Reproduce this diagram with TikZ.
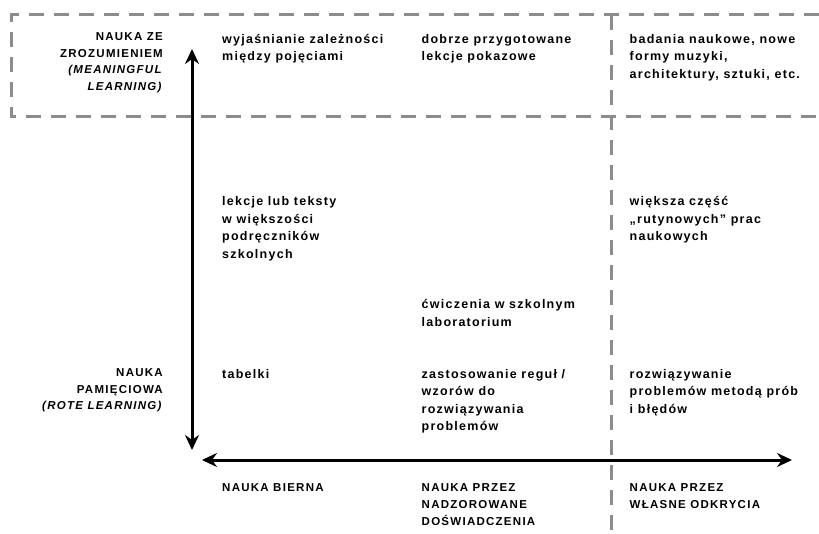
\documentclass[tikz,border=0pt]{standalone}
\usepackage{fontspec}
\setmainfont{Liberation Sans}
\newfontfamily\bodyf{Liberation Sans}[LetterSpace=10]
\newfontfamily\capf{Liberation Sans}[LetterSpace=11]
\usetikzlibrary{arrows.meta}
\definecolor{dashgray}{RGB}{140,140,140}
\newcommand\stackL[1]{\vtop{\halign{##\hfil\cr#1\crcr}}}
\newcommand\stackR[1]{\vtop{\halign{\hfil##\cr#1\crcr}}}
\begin{document}
\begin{tikzpicture}[x=1pt,y=-1pt,
  cell/.style={anchor=base west, inner sep=0pt,
    font=\bodyf\bfseries\fontsize{12.5}{17.5}\selectfont},
  sidelabel/.style={anchor=base east, inner sep=0pt,
    font=\capf\bfseries\fontsize{11.5}{16.6}\selectfont},
  baselabel/.style={anchor=base west, inner sep=0pt,
    font=\capf\bfseries\fontsize{11.5}{16.7}\selectfont},
  dashline/.style={draw=dashgray, line width=3pt, dash pattern=on 15pt off 10pt},
  axis/.style={line width=3pt, {Stealth[length=15pt,width=14pt,inset=5pt]}-{Stealth[length=15pt,width=14pt,inset=5pt]}}]
\useasboundingbox (0,0) rectangle (819,534);
% dashed frame
\draw[dashline] (819,15) -- (11,15) -- (11,117) -- (819,117);
\draw[dashline] (611,15) -- (611,534);
% axes
\coordinate (vtop) at (192,49);
\coordinate (vbot) at (192,450);
\coordinate (hleft) at (202,460);
\coordinate (hright) at (792,460);
\draw[axis] (vbot) -- (vtop);
\draw[axis] (hleft) -- (hright);
% side labels
\node[sidelabel] (s1) at (163,40.7) {\stackR{NAUKA ZE\cr ZROZUMIENIEM\cr \textit{(MEANINGFUL}\cr \textit{LEARNING)}}};
\node[sidelabel] (s2) at (163,376.7) {\stackR{NAUKA\cr PAMIĘCIOWA\cr \textit{(ROTE LEARNING)}}};
% cells
\node[cell] (c11) at (222,43.5) {\stackL{wyjaśnianie zależności\cr między pojęciami}};
\node[cell] (c12) at (421.5,43.5) {\stackL{dobrze przygotowane\cr lekcje pokazowe}};
\node[cell] (c13) at (629.5,43.5) {\stackL{badania naukowe, nowe\cr formy muzyki,\cr architektury, sztuki, etc.}};
\node[cell] (c21) at (222,206) {\stackL{lekcje lub teksty\cr w większości\cr podręczników\cr szkolnych}};
\node[cell] (c23) at (629.5,206) {\stackL{większa część\cr „rutynowych” prac\cr naukowych}};
\node[cell] (c22) at (421.5,309) {\stackL{ćwiczenia w szkolnym\cr laboratorium}};
\node[cell] (c31) at (222,378) {tabelki};
\node[cell] (c32) at (421.5,378) {\stackL{zastosowanie reguł /\cr wzorów do\cr rozwiązywania\cr problemów}};
\node[cell] (c33) at (629.5,378) {\stackL{rozwiązywanie\cr problemów metodą prób\cr i błędów}};
% bottom labels
\node[baselabel] (b1) at (222,491.7) {NAUKA BIERNA};
\node[baselabel] (b2) at (421.5,491.7) {\stackL{NAUKA PRZEZ\cr NADZOROWANE\cr DOŚWIADCZENIA}};
\node[baselabel] (b3) at (629.5,491.7) {\stackL{NAUKA PRZEZ\cr WŁASNE ODKRYCIA}};
\end{tikzpicture}
\end{document}
